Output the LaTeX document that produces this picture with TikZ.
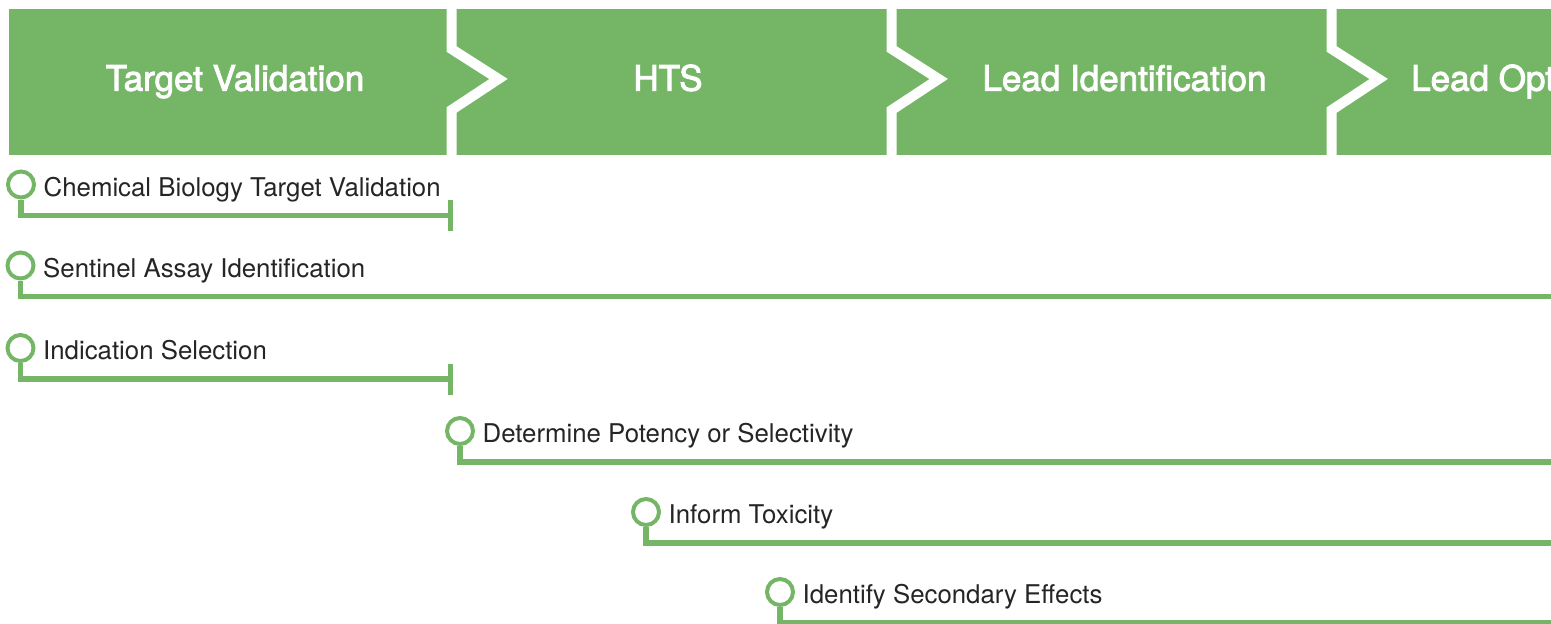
\documentclass[tikz,border=0pt]{standalone}
\usepackage{fontspec}
\setmainfont{TeX Gyre Heros}
\newfontfamily\hdrfont[FakeBold=2.6]{TeX Gyre Heros}
\usetikzlibrary{calc}
\definecolor{grn}{RGB}{116,182,102}
\definecolor{txt}{RGB}{38,36,37}
\begin{document}
\begin{tikzpicture}[x=1pt,y=-1pt,
  hdr/.style={text=white,font=\hdrfont\fontsize{35}{42}\selectfont,anchor=base,inner sep=0pt},
  ring/.style={circle,draw=grn,line width=4pt,minimum size=26pt,inner sep=0pt},
  lbl/.style={text=txt,font=\fontsize{25.8}{31}\selectfont,anchor=base west,inner sep=0pt},
  bar/.style={draw=grn,line width=5.5pt},
  sep/.style={draw=white,line width=10pt,miter limit=10}]
\useasboundingbox (0,0) rectangle (1551,624);
\clip (0,0) rectangle (1551,624);
% banner
\fill[grn] (9,9) rectangle (1560,155);
\foreach \s in {451.5,891.7,1331.7}{
  \draw[sep] (\s,0) -- (\s,49) -- (\s+47,79) -- (\s,110) -- (\s,170);
}
\node[hdr] (h1) at (235,90.7) {Target Validation};
\node[hdr] (h2) at (668,90.7) {HTS};
\node[hdr] (h3) at (1124.5,90.7) {Lead Identification};
\node[hdr,anchor=base west] (h4) at (1411,90.7) {Lead Optimization};
% rows
\foreach \n/\cx/\cy/\ex/\txt in {
  1/21/184.5/450/Chemical Biology Target Validation,
  2/20.5/265.5/1560/Sentinel Assay Identification,
  3/20.5/348/450/Indication Selection,
  4/460/431/1560/Determine Potency or Selectivity,
  5/646/512/1560/Inform Toxicity,
  6/780/592/1560/Identify Secondary Effects}{
  \node[ring] (c\n) at (\cx,\cy) {};
  \node[lbl] (l\n) at (\cx+22.5,\cy+11.5) {\txt};
  \coordinate (e\n) at (\ex,\cy+31);
  \draw[bar] (c\n.south) -- (c\n.south |- e\n) -- (e\n);
}
\draw[bar,line width=5pt] ($(e1)+(0,-15.5)$) -- ($(e1)+(0,15.5)$);
\draw[bar,line width=5pt] ($(e3)+(0,-15.5)$) -- ($(e3)+(0,15.5)$);
\end{tikzpicture}
\end{document}
